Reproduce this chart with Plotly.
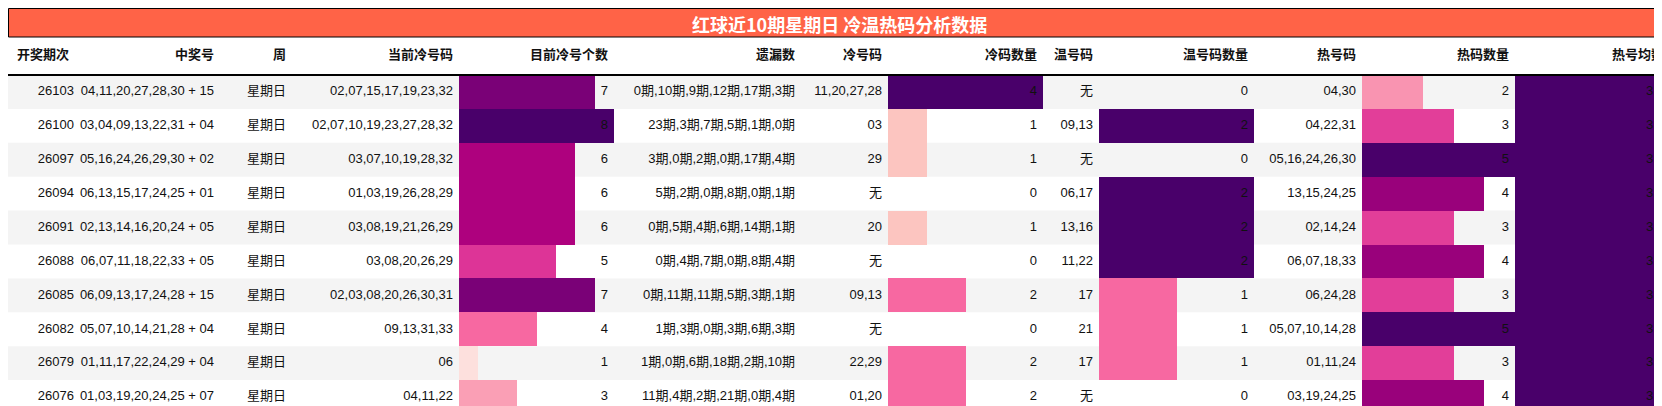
import plotly.graph_objects as go
from plotly.colors import sample_colorscale

title = "红球近10期星期日 冷温热码分析数据"
headers = ["开奖期次", "中奖号", "周", "当前冷号码", "目前冷号个数", "遗漏数", "冷号码", "冷码数量",
           "温号码", "温号码数量", "热号码", "热码数量", "热号均数"]
periods = ["26103", "26100", "26097", "26094", "26091", "26088", "26085", "26082", "26079", "26076"]
winning = ["04,11,20,27,28,30 + 15", "03,04,09,13,22,31 + 04", "05,16,24,26,29,30 + 02",
           "06,13,15,17,24,25 + 01", "02,13,14,16,20,24 + 05", "06,07,11,18,22,33 + 05",
           "06,09,13,17,24,28 + 15", "05,07,10,14,21,28 + 04", "01,11,17,22,24,29 + 04",
           "01,03,19,20,24,25 + 07"]
weekday = ["星期日"] * 10
cur_cold = ["02,07,15,17,19,23,32", "02,07,10,19,23,27,28,32", "03,07,10,19,28,32", "01,03,19,26,28,29",
            "03,08,19,21,26,29", "03,08,20,26,29", "02,03,08,20,26,30,31", "09,13,31,33", "06", "04,11,22"]
cold_cnt = [7, 8, 6, 6, 6, 5, 7, 4, 1, 3]
omit = ["0期,10期,9期,12期,17期,3期", "23期,3期,7期,5期,1期,0期", "3期,0期,2期,0期,17期,4期",
        "5期,2期,0期,8期,0期,1期", "0期,5期,4期,6期,14期,1期", "0期,4期,7期,0期,8期,4期",
        "0期,11期,11期,5期,3期,1期", "1期,3期,0期,3期,6期,3期", "1期,0期,6期,18期,2期,10期",
        "11期,4期,2期,21期,0期,4期"]
cold_codes = ["11,20,27,28", "03", "29", "无", "20", "无", "09,13", "无", "22,29", "01,20"]
cold_code_cnt = [4, 1, 1, 0, 1, 0, 2, 0, 2, 2]
warm_codes = ["无", "09,13", "无", "06,17", "13,16", "11,22", "17", "21", "17", "无"]
warm_cnt = [0, 2, 0, 2, 2, 2, 1, 1, 1, 0]
hot_codes = ["04,30", "04,22,31", "05,16,24,26,30", "13,15,24,25", "02,14,24", "06,07,18,33",
             "06,24,28", "05,07,10,14,28", "01,11,24", "03,19,24,25"]
hot_cnt = [2, 3, 5, 4, 3, 4, 3, 5, 3, 4]
hot_avg = [3.6] * 10

W, H = 1662, 406
edges = [0, 72, 212, 284, 451, 606, 793, 880, 1035, 1091, 1246, 1354, 1507, 1662]
title_h, head_b = 29, 67
row_h = (H - head_b) / 10
FONT = "Liberation Sans, Noto Sans CJK SC"

cols = [periods, winning, weekday, cur_cold, cold_cnt, omit, cold_codes, cold_code_cnt,
        warm_codes, warm_cnt, hot_codes, hot_cnt, hot_avg]
bar_cols = {4, 7, 9, 11, 12}

fig = go.Figure()
shapes = []
for i in range(10):
    y0 = head_b + i * row_h
    if i % 2 == 0:
        shapes.append(dict(type="rect", xref="x", yref="y", x0=0, x1=W, y0=y0, y1=y0 + row_h,
                           fillcolor="#f4f4f4", line_width=0, layer="below"))
shapes.append(dict(type="rect", xref="x", yref="y", x0=0.5, x1=W - 1, y0=0.5, y1=title_h,
                   fillcolor="#ff6347", line=dict(color="black", width=1)))
shapes.append(dict(type="line", xref="x", yref="y", x0=0, x1=W, y0=head_b, y1=head_b,
                   line=dict(color="black", width=2)))

ycent = [head_b + (i + 0.5) * row_h for i in range(10)]
for c in sorted(bar_cols):
    vals = [float(v) for v in cols[c]]
    mx = max(vals)
    cw = edges[c + 1] - edges[c]
    colors = sample_colorscale("RdPu", [v / mx for v in vals])
    fig.add_trace(go.Bar(orientation="h", y=ycent, x=[v / mx * cw for v in vals], base=edges[c],
                         width=row_h, marker=dict(color=colors, line_width=0), hoverinfo="skip"))

for c, col in enumerate(cols):
    xr = edges[c + 1] - 6
    fig.add_trace(go.Scatter(x=[xr] * 10, y=ycent, mode="text", text=[str(v) for v in col],
                             textposition="middle left",
                             textfont=dict(size=13, color="#111", family=FONT),
                             hoverinfo="skip"))

hx = [9] + [edges[c + 1] - 6 for c in range(1, 13)]
fig.add_trace(go.Scatter(x=hx, y=[(title_h + head_b) / 2] * 13, mode="text",
                         text=["<b>%s</b>" % h for h in headers],
                         textposition=["middle right"] + ["middle left"] * 12,
                         textfont=dict(size=13, color="#111", family=FONT),
                         hoverinfo="skip"))

fig.add_annotation(x=W / 2, y=title_h / 2 + 1, xref="x", yref="y", text="<b>%s</b>" % title,
                   showarrow=False, font=dict(size=18, color="white", family="Noto Sans CJK SC"))

fig.update_layout(width=W, height=H, margin=dict(l=0, r=0, t=0, b=0), showlegend=False,
                  plot_bgcolor="white", paper_bgcolor="white", shapes=shapes, bargap=0,
                  barmode="overlay",
                  xaxis=dict(range=[0, W], visible=False, fixedrange=True),
                  yaxis=dict(range=[H, 0], visible=False, fixedrange=True))
fig.write_html("out.html")
